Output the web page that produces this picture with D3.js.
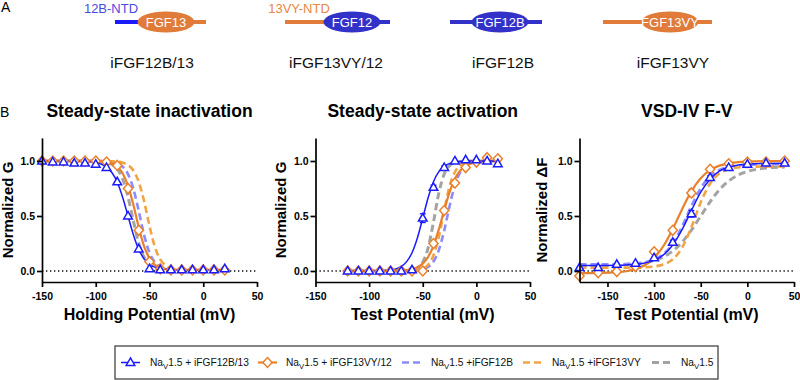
<!DOCTYPE html>
<html>
<head>
<meta charset="utf-8">
<script src="https://cdn.jsdelivr.net/npm/d3@7"></script>
<style>
body { margin: 0; background: #fff; }
svg { display: block; font-family: Arial, "Liberation Sans", sans-serif; }
</style>
</head>
<body>
<svg id="canvas"></svg>
<script>
// ---- panel A: constructs ----
let constructNames = ['iFGF12B/13', 'iFGF13VY/12', 'iFGF12B', 'iFGF13VY']
let ntdLabels = ['12B-NTD', '13VY-NTD', '', '']
let coreLabels = ['FGF13', 'FGF12', 'FGF12B', 'FGF13VY']

// ---- panel B1: steady-state inactivation ----
let inactV = [-150, -140, -130, -120, -110, -100, -90, -80, -70, -60, -50, -40, -30, -20, -10, 0, 10, 20]
let inact12B13 = [1.0, 0.99, 0.99, 0.98, 0.98, 0.97, 0.94, 0.81, 0.50, 0.20, 0.02, 0.01, 0.01, 0.01, 0.01, 0.01, 0.01, 0.02]
let inact13VY12 = [1.0, 1.0, 1.0, 1.0, 1.0, 1.0, 0.99, 0.96, 0.75, 0.37, 0.085, 0.02, 0.01, 0.01, 0.01, 0.01, 0.01, 0.01]
// fitted curves
let inactFitV = [-150, -120, -110, -100, -95, -90, -85, -80, -75, -70, -65, -60, -55, -50, -45, -40, -35, -30, -20, 20]
let inactFit12B13 = [1.0, 1.0, 0.997, 0.986, 0.973, 0.946, 0.895, 0.807, 0.671, 0.5, 0.33, 0.195, 0.11, 0.06, 0.035, 0.022, 0.016, 0.013, 0.01, 0.01]
let inactFit13VY12 = [1.0, 1.0, 1.0, 0.998, 0.996, 0.99, 0.977, 0.949, 0.889, 0.777, 0.603, 0.397, 0.223, 0.115, 0.056, 0.03, 0.018, 0.013, 0.01, 0.01]
let inactFit12B = [1.0, 1.0, 1.0, 0.999, 0.999, 0.996, 0.991, 0.979, 0.948, 0.881, 0.748, 0.545, 0.326, 0.168, 0.078, 0.037, 0.02, 0.013, 0.01, 0.01]
let inactFit13VY = [1.0, 1.0, 1.0, 1.0, 1.0, 0.999, 0.998, 0.994, 0.985, 0.963, 0.914, 0.81, 0.633, 0.41, 0.219, 0.105, 0.05, 0.025, 0.012, 0.01]
let inactFitNav = [1.0, 1.0, 1.0, 0.998, 0.995, 0.987, 0.969, 0.928, 0.837, 0.674, 0.455, 0.252, 0.125, 0.058, 0.028, 0.016, 0.012, 0.01, 0.01, 0.01]

// ---- panel B2: steady-state activation ----
let actV = [-120, -110, -100, -90, -80, -70, -60, -50, -40, -30, -20, -10, 0, 10, 20]
let act12B13 = [0, 0, 0, 0, 0, 0, 0.01, 0.48, 0.76, 0.94, 1.0, 1.01, 1.01, 1.0, 0.975]
let act12B13Err = [0, 0, 0, 0, 0, 0, 0, 0.04, 0.02, 0.015, 0, 0, 0, 0, 0]
let act13VY12 = [0, 0, 0, 0, 0, 0, 0, 0, 0.25, 0.55, 0.80, 0.94, 0.99, 1.03, 1.02]
let act13VY12Err = [0, 0, 0, 0, 0, 0, 0, 0, 0.02, 0.02, 0.015, 0, 0, 0, 0]
let actFitV = [-120, -90, -80, -75, -70, -65, -60, -55, -50, -45, -40, -35, -30, -25, -20, -15, -10, -5, 0, 10, 20]
let actFit12B13 = [0, 0.002, 0.009, 0.019, 0.041, 0.085, 0.166, 0.3, 0.481, 0.666, 0.812, 0.903, 0.953, 0.977, 0.989, 0.995, 0.997, 0.999, 1.0, 1.0, 1.0]
let actFit13VY12 = [0, 0, 0.001, 0.002, 0.004, 0.008, 0.017, 0.034, 0.067, 0.127, 0.229, 0.378, 0.553, 0.717, 0.838, 0.914, 0.956, 0.978, 0.989, 0.997, 1.0]
let actFit12B = [0, 0, 0, 0, 0, 0.001, 0.002, 0.006, 0.015, 0.037, 0.086, 0.19, 0.367, 0.59, 0.781, 0.899, 0.956, 0.982, 0.993, 0.999, 1.0]
let actFit13VY = [0, 0, 0, 0, 0, 0.001, 0.003, 0.008, 0.022, 0.057, 0.142, 0.31, 0.55, 0.769, 0.9, 0.961, 0.985, 0.994, 0.998, 1.0, 1.0]
let actFitNav = [0, 0, 0, 0, 0.001, 0.003, 0.009, 0.028, 0.08, 0.209, 0.445, 0.709, 0.881, 0.957, 0.985, 0.995, 0.998, 1.0, 1.0, 1.0, 1.0]

// ---- panel B3: VSD-IV F-V ----
let fvV = [-180, -160, -140, -120, -100, -80, -60, -40, -20, 0, 20, 40]
let fv12B13 = [0.03, 0.03, 0.06, 0.07, 0.12, 0.26, 0.52, 0.85, 0.94, 0.97, 0.98, 0.98]
let fv12B13Err = [0, 0, 0, 0, 0, 0.02, 0.03, 0.015, 0, 0, 0, 0]
let fv13VY12 = [-0.045, -0.015, -0.005, 0.04, 0.175, 0.37, 0.71, 0.925, 0.975, 0.99, 0.99, 1.0]
let fv13VY12Err = [0, 0, 0, 0, 0.015, 0.02, 0.035, 0.015, 0, 0, 0, 0]
let fvFitV = [-180, -160, -140, -130, -120, -110, -100, -90, -80, -70, -60, -50, -40, -30, -20, -10, 0, 20, 40]
let fvFit12B13 = [0.05, 0.05, 0.052, 0.055, 0.061, 0.073, 0.097, 0.147, 0.237, 0.376, 0.55, 0.716, 0.835, 0.907, 0.945, 0.963, 0.972, 0.978, 0.98]
let fvFit13VY12 = [-0.02, -0.018, -0.011, -0.002, 0.017, 0.052, 0.118, 0.227, 0.382, 0.562, 0.726, 0.844, 0.917, 0.958, 0.979, 0.99, 0.995, 0.999, 1.0]
let fvFit12B = [0.06, 0.06, 0.062, 0.064, 0.068, 0.079, 0.103, 0.154, 0.25, 0.404, 0.59, 0.754, 0.862, 0.919, 0.947, 0.96, 0.965, 0.969, 0.97]
let fvFit13VY = [0.03, 0.03, 0.03, 0.031, 0.032, 0.034, 0.041, 0.059, 0.106, 0.212, 0.399, 0.624, 0.795, 0.887, 0.925, 0.941, 0.946, 0.95, 0.95]
let fvFitNav = [0.05, 0.051, 0.055, 0.058, 0.064, 0.075, 0.095, 0.128, 0.182, 0.262, 0.371, 0.5, 0.629, 0.739, 0.818, 0.872, 0.905, 0.936, 0.945]

let xTicks = [-150, -100, -50, 0, 50]
let yTicks = [0, 0.5, 1.0]
let legendSuffix = [' + iFGF12B/13', ' + iFGF13VY/12', ' +iFGF12B', ' +iFGF13VY', '']

let blue = '#1a1aff'
let orange = '#e8802c'
let lightBlue = '#8c8cff'
let orangeDash = '#f2a444'
let gray = '#a3a3a3'

let width = 800
let height = 380

let canvas = d3.select('#canvas')
    .attr('width', width)
    .attr('height', height)

// ---------- panel A ----------
canvas.append('text').attr('x', 1).attr('y', 12).attr('font-size', 14).text('A')
canvas.append('text').attr('x', 0).attr('y', 117).attr('font-size', 14).text('B')

let cons = [
    {cx: 166, left: 115, right: 206, armL: blue, core: orange, armR: orange, label: 152, ntdX: 111, ntdColor: '#4a4ae0'},
    {cx: 352, left: 285, right: 390, armL: orange, core: '#3232c8', armR: '#3232c8', label: 336, ntdX: 299, ntdColor: '#e8873f'},
    {cx: 500, left: 450, right: 542, armL: '#3232c8', core: '#3232c8', armR: '#3232c8', label: 503, ntdX: 0, ntdColor: ''},
    {cx: 670, left: 603, right: 712, armL: orange, core: orange, armR: orange, label: 673, ntdX: 0, ntdColor: ''}
]
let coreOrange = '#e07b39'

cons.forEach((c, i) => {
    let g = canvas.append('g')
    let coreCol = c.core === orange ? coreOrange : c.core
    g.append('line').attr('x1', c.left).attr('x2', c.cx).attr('y1', 22).attr('y2', 22)
        .attr('stroke', c.armL === orange ? coreOrange : c.armL).attr('stroke-width', 4)
    g.append('line').attr('x1', c.cx).attr('x2', c.right).attr('y1', 22).attr('y2', 22)
        .attr('stroke', c.armR === orange ? coreOrange : c.armR).attr('stroke-width', 4)
    g.append('ellipse').attr('cx', c.cx).attr('cy', 22).attr('rx', 28.5).attr('ry', 10.5)
        .attr('fill', coreCol)
    g.append('text').attr('x', c.cx).attr('y', 26.5).attr('text-anchor', 'middle')
        .attr('font-size', 13).attr('fill', '#fff').text(coreLabels[i])
    if (ntdLabels[i]) {
        g.append('text').attr('x', c.ntdX).attr('y', 13).attr('text-anchor', 'middle')
            .attr('font-size', 13).attr('fill', c.ntdColor).text(ntdLabels[i])
    }
    g.append('text').attr('x', c.label).attr('y', 68).attr('text-anchor', 'middle')
        .attr('font-size', 15.5).attr('fill', '#111').text(constructNames[i])
})

// ---------- panel B ----------
let zip = (xs, ys) => xs.map((v, i) => [v, ys[i]])

let panels = [
    {
        title: 'Steady-state inactivation', xLabel: 'Holding Potential (mV)', yLabel: 'Normalized G',
        xDomain: [-150, 50], left: 42, right: 257, yLabelX: 13,
        fitV: inactFitV,
        fits: [inactFitNav, inactFit12B, inactFit13VY, inactFit13VY12, inactFit12B13],
        markV: inactV, tri: inact12B13, dia: inact13VY12, triErr: null, diaErr: null
    },
    {
        title: 'Steady-state activation', xLabel: 'Test Potential (mV)', yLabel: 'Normalized G',
        xDomain: [-150, 50], left: 315.5, right: 530, yLabelX: 286,
        fitV: actFitV,
        fits: [actFitNav, actFit12B, actFit13VY, actFit13VY12, actFit12B13],
        markV: actV, tri: act12B13, dia: act13VY12, triErr: act12B13Err, diaErr: act13VY12Err
    },
    {
        title: 'VSD-IV F-V', xLabel: 'Test Potential (mV)', yLabel: 'Normalized \u0394F',
        xDomain: [-180, 50], left: 579.5, right: 794, yLabelX: 547,
        fitV: fvFitV,
        fits: [fvFitNav, fvFit12B, fvFit13VY, fvFit13VY12, fvFit12B13],
        markV: fvV, tri: fv12B13, dia: fv13VY12, triErr: fv12B13Err, diaErr: fv13VY12Err
    }
]

// order of fits: gray, light blue, orange dashed, orange solid, blue solid
let fitStyles = [
    {color: gray, w: 3, dash: '7,4'},
    {color: lightBlue, w: 2.6, dash: '7,4'},
    {color: orangeDash, w: 2.6, dash: '7,4'},
    {color: orange, w: 2.2, dash: null},
    {color: blue, w: 1.5, dash: null}
]

let yScale = d3.scaleLinear().domain([-0.1, 1.21]).range([282, 137.9])

let triPath = 'M0,-4.6L4.3,2.9L-4.3,2.9Z'
let diaPath = 'M0,-5L4.6,0L0,5L-4.6,0Z'

let drawPanel = (p) => {
    let xScale = d3.scaleLinear().domain(p.xDomain).range([p.left, p.right])
    let g = canvas.append('g')

    // zero reference line
    g.append('line')
        .attr('x1', p.left).attr('x2', p.right)
        .attr('y1', yScale(0)).attr('y2', yScale(0))
        .attr('stroke', '#000').attr('stroke-width', 1.3).attr('stroke-dasharray', '1.3,2.7')

    let line = d3.line()
        .x(d => xScale(d[0]))
        .y(d => yScale(d[1]))
        .curve(d3.curveMonotoneX)

    g.selectAll('path.fit')
        .data(p.fits)
        .enter()
        .append('path')
        .attr('class', 'fit')
        .attr('d', ys => line(zip(p.fitV, ys)))
        .attr('fill', 'none')
        .attr('stroke', (ys, i) => fitStyles[i].color)
        .attr('stroke-width', (ys, i) => fitStyles[i].w)
        .attr('stroke-dasharray', (ys, i) => fitStyles[i].dash)

    let drawErr = (vals, errs, color) => {
        if (!errs) return
        let pts = zip(p.markV, vals).map((d, i) => [d[0], d[1], errs[i]]).filter(d => d[2] > 0)
        let eg = g.append('g').attr('stroke', color).attr('stroke-width', 1.2)
        pts.forEach(d => {
            let x = xScale(d[0])
            eg.append('line').attr('x1', x).attr('x2', x).attr('y1', yScale(d[1] - d[2])).attr('y2', yScale(d[1] + d[2]))
            eg.append('line').attr('x1', x - 3).attr('x2', x + 3).attr('y1', yScale(d[1] - d[2])).attr('y2', yScale(d[1] - d[2]))
            eg.append('line').attr('x1', x - 3).attr('x2', x + 3).attr('y1', yScale(d[1] + d[2])).attr('y2', yScale(d[1] + d[2]))
        })
    }
    drawErr(p.dia, p.diaErr, orange)
    drawErr(p.tri, p.triErr, blue)

    g.selectAll('path.dia')
        .data(zip(p.markV, p.dia))
        .enter()
        .append('path')
        .attr('class', 'dia')
        .attr('d', diaPath)
        .attr('transform', d => 'translate(' + xScale(d[0]) + ',' + yScale(d[1]) + ')')
        .attr('fill', '#fff')
        .attr('stroke', orange)
        .attr('stroke-width', 1.5)

    g.selectAll('path.tri')
        .data(zip(p.markV, p.tri))
        .enter()
        .append('path')
        .attr('class', 'tri')
        .attr('d', triPath)
        .attr('transform', d => 'translate(' + xScale(d[0]) + ',' + yScale(d[1]) + ')')
        .attr('fill', '#fff')
        .attr('stroke', blue)
        .attr('stroke-width', 1.5)

    let xAxis = d3.axisBottom(xScale)
        .tickValues(xTicks)
        .tickFormat(d => String(d))
        .tickSize(5)
        .tickSizeOuter(0)
        .tickPadding(6)
    let yAxis = d3.axisLeft(yScale)
        .tickValues(yTicks)
        .tickFormat(d => d.toFixed(1))
        .tickSize(5)
        .tickSizeOuter(0)
        .tickPadding(2)

    let xa = canvas.append('g')
        .attr('transform', 'translate(0,' + yScale(-0.1) + ')')
        .call(xAxis)
    let ya = canvas.append('g')
        .attr('transform', 'translate(' + p.left + ',0)')
        .call(yAxis)

    ;[xa, ya].forEach(a => {
        a.select('.domain').attr('stroke-width', 1.7).attr('stroke', '#000')
        a.selectAll('.tick line').attr('stroke-width', 1.7).attr('stroke', '#000')
        a.selectAll('.tick text')
            .attr('font-size', 10.5)
            .attr('font-weight', 'bold')
            .attr('font-family', 'Arial, "Liberation Sans", sans-serif')
            .attr('fill', '#000')
    })

    let mid = (p.left + p.right) / 2
    canvas.append('text')
        .attr('x', mid).attr('y', 117)
        .attr('text-anchor', 'middle')
        .attr('font-size', 17.5).attr('font-weight', 'bold')
        .text(p.title)
    canvas.append('text')
        .attr('x', mid).attr('y', 320)
        .attr('text-anchor', 'middle')
        .attr('font-size', 16).attr('font-weight', 'bold')
        .text(p.xLabel)
    canvas.append('text')
        .attr('transform', 'translate(' + p.yLabelX + ',210) rotate(-90)')
        .attr('text-anchor', 'middle')
        .attr('font-size', 15).attr('font-weight', 'bold')
        .text(p.yLabel)
}

panels.forEach(drawPanel)

// ---------- legend ----------
let legend = canvas.append('g')
legend.append('rect')
    .attr('x', 115).attr('y', 346).attr('width', 603).attr('height', 33)
    .attr('fill', '#fff').attr('stroke', '#444').attr('stroke-width', 1.3)

let legendItems = [
    {x0: 121, x1: 140, tx: 150, color: blue, w: 1.5, dash: null, mark: triPath},
    {x0: 258, x1: 277, tx: 286, color: orange, w: 2.2, dash: null, mark: diaPath},
    {x0: 402, x1: 420, tx: 431, color: lightBlue, w: 2.6, dash: '7,4', mark: null},
    {x0: 523, x1: 542, tx: 552, color: orangeDash, w: 2.6, dash: '7,4', mark: null},
    {x0: 652, x1: 671, tx: 681, color: gray, w: 3, dash: '7,4', mark: null}
]
let ly = 362.5
legendItems.forEach((it, i) => {
    legend.append('line')
        .attr('x1', it.x0).attr('x2', it.x1).attr('y1', ly).attr('y2', ly)
        .attr('stroke', it.color).attr('stroke-width', it.w)
        .attr('stroke-dasharray', it.dash)
    if (it.mark) {
        legend.append('path')
            .attr('d', it.mark)
            .attr('transform', 'translate(' + (it.x0 + it.x1) / 2 + ',' + ly + ')')
            .attr('fill', '#fff').attr('stroke', it.color).attr('stroke-width', 1.5)
    }
    let t = legend.append('text').attr('x', it.tx).attr('y', ly + 3.5).attr('font-size', 10.2).attr('fill', '#111')
    t.append('tspan').text('Na')
    t.append('tspan').attr('font-size', 7.8).attr('dy', 2.5).text('V')
    t.append('tspan').attr('dy', -2.5).text('1.5' + legendSuffix[i])
})
</script>
</body>
</html>
